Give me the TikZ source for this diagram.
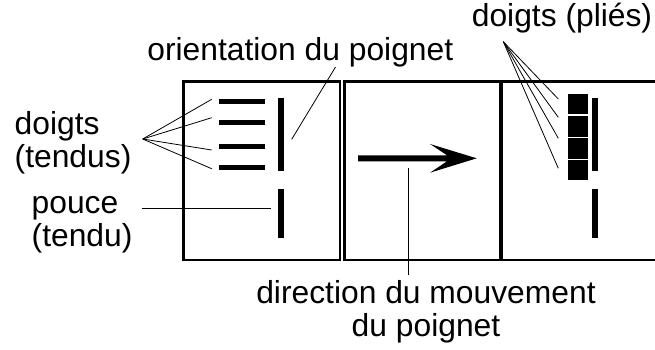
\documentclass[tikz,border=0pt]{standalone}
\usepackage{fontspec}
\setmainfont{Liberation Sans}
\begin{document}
\begin{tikzpicture}[x=1pt,y=-1pt,
  lbl/.style={font=\fontsize{31.8}{33}\selectfont, inner sep=0pt, align=left},
  frame/.style={line width=2.8pt},
  bar/.style={fill=black, draw=none},
  conn/.style={line width=0.8pt}]
\useasboundingbox (0,0) rectangle (655,349);
% panels
\draw[frame] (183.3,81.7) rectangle (340,260);
\draw[frame] (344.3,81.7) rectangle (500,260);
\draw[frame] (655,81.7) -- (501.5,81.7) -- (501.5,260) -- (655,260);
% panel 1 : extended fingers
\foreach \y in {101.7,122.7,146.7,167.7}
  \fill[bar] (219,\y-2.7) rectangle (265,\y+2.7);
\fill[bar] (277.7,98) rectangle (284,170.7);
\fill[bar] (277.7,189) rectangle (284,237.7);
% panel 2 : arrow
\fill[bar] (358,155.3) -- (447,155.3) -- (430,144) -- (476.7,158.3) -- (430,172.7) -- (447,161.3) -- (358,161.3) -- cycle;
% panel 3 : bent fingers
\fill[bar] (568.3,93.5) rectangle (587.7,114);
\fill[bar] (568.3,115.5) rectangle (587.7,136.7);
\fill[bar] (568.3,138.3) rectangle (587.7,158.7);
\fill[bar] (568.3,160.3) rectangle (587.7,180);
\fill[bar] (592,98.3) rectangle (597.7,170.7);
\fill[bar] (592,189) rectangle (597.7,237.7);
% labels
\node[lbl, anchor=base] (orient) at (300.3,60) {orientation du poignet};
\node[lbl, anchor=base] (plies) at (562,26.5) {doigts (pliés)};
\node[lbl, anchor=base west] (tendus) at (14.5,167) {doigts\\(tendus)};
\node[lbl, anchor=base west] (pouce) at (31.5,246.5) {pouce\\(tendu)};
\node[lbl, anchor=base, align=center] (dir) at (426,336) {direction du mouvement\\du poignet};
% connector coordinates
\coordinate (aT) at (142.7,139);
\coordinate (f1) at (211.7,99.3);
\coordinate (f2) at (211.7,117.7);
\coordinate (f3) at (211.7,150);
\coordinate (f4) at (211.7,168.7);
\coordinate (pS) at (142,208.3);
\coordinate (pE) at (270.7,208.3);
\coordinate (oS) at (291.7,139.3);
\coordinate (oE) at (335.5,67);
\coordinate (dS) at (408.3,168.3);
\coordinate (dE) at (408.3,275);
\coordinate (aP) at (503.3,41.7);
\coordinate (b1) at (558.3,99);
\coordinate (b2) at (558.3,117.3);
\coordinate (b3) at (558.3,138.3);
\coordinate (b4) at (558.3,168.3);
% connectors
\foreach \t in {f1,f2,f3,f4} \draw[conn] (aT) -- (\t);
\foreach \t in {b1,b2,b3,b4} \draw[conn] (aP) -- (\t);
\draw[conn] (pS) -- (pE);
\draw[conn] (oS) -- (oE);
\draw[conn] (dS) -- (dE);
\end{tikzpicture}
\end{document}
